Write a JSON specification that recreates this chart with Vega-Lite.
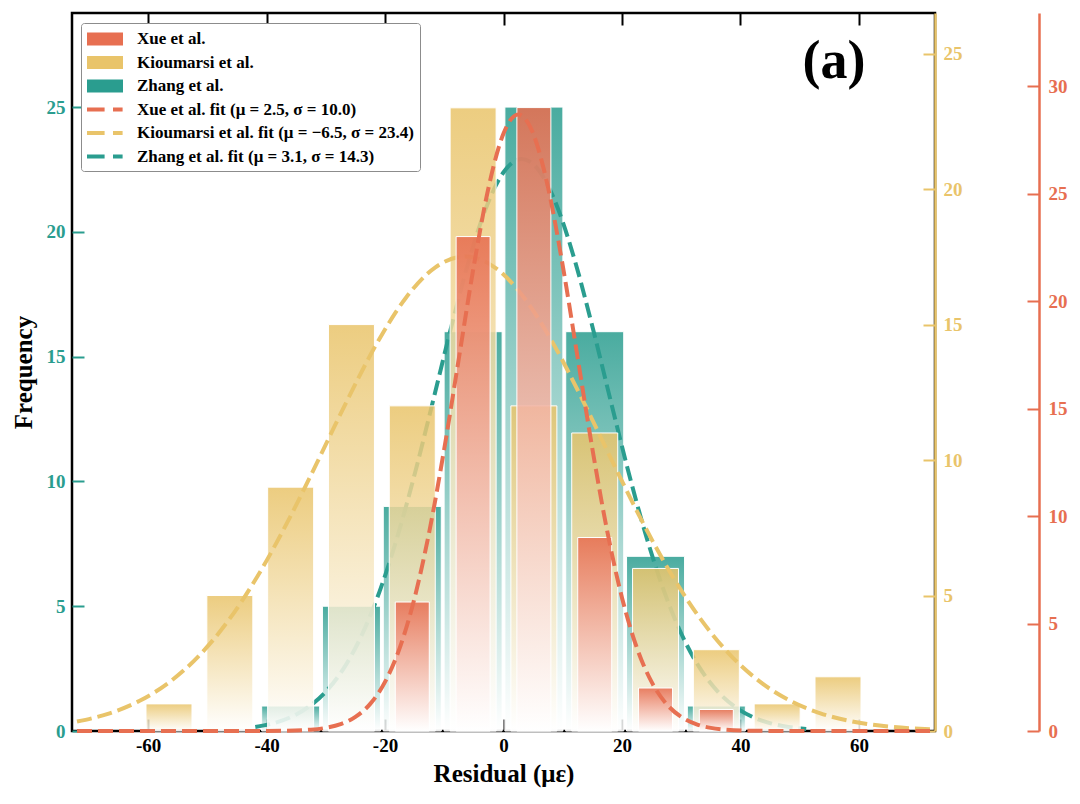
{
  "$schema": "https://vega.github.io/schema/vega-lite/v6.json",
  "width": 863,
  "height": 718,
  "autosize": "none",
  "padding": {"left": 72, "top": 13, "right": 145, "bottom": 73},
  "background": "white",
  "config": {
    "locale": {"number": {"decimal": ".", "thousands": ",", "grouping": [3], "currency": ["$", ""], "minus": "-"}},
    "view": {"stroke": "black", "strokeWidth": 2.5},
    "axis": {
      "grid": false,
      "labelFont": "Liberation Serif",
      "labelFontWeight": "bold",
      "labelFontSize": 19,
      "titleFont": "Liberation Serif",
      "titleFontWeight": "bold",
      "titleFontSize": 25,
      "titleColor": "black"
    }
  },
  "datasets": {
    "zhang": [
      {"center": -35.93, "count": 1}, {"center": -25.67, "count": 5}, {"center": -15.4, "count": 9},
      {"center": -5.13, "count": 16}, {"center": 5.13, "count": 25}, {"center": 15.4, "count": 16},
      {"center": 25.67, "count": 7}, {"center": 35.93, "count": 1}
    ],
    "kioumarsi": [
      {"center": -56.47, "count": 1}, {"center": -46.2, "count": 5}, {"center": -35.93, "count": 9},
      {"center": -25.67, "count": 15}, {"center": -15.4, "count": 12}, {"center": -5.13, "count": 23},
      {"center": 5.13, "count": 12}, {"center": 15.4, "count": 11}, {"center": 25.67, "count": 6},
      {"center": 35.93, "count": 3}, {"center": 46.2, "count": 1}, {"center": 56.47, "count": 2}
    ],
    "xue": [
      {"center": -15.4, "count": 6}, {"center": -5.13, "count": 23}, {"center": 5.13, "count": 29},
      {"center": 15.4, "count": 9}, {"center": 25.67, "count": 2}, {"center": 35.93, "count": 1}
    ],
    "zhang_fit": [
      {"s": "Zhang et al. fit (μ = 3.1, σ = 14.3)", "x": -41.9, "y": 0.162}, {"s": "Zhang et al. fit (μ = 3.1, σ = 14.3)", "x": -38.9, "y": 0.307},
      {"s": "Zhang et al. fit (μ = 3.1, σ = 14.3)", "x": -35.9, "y": 0.556}, {"s": "Zhang et al. fit (μ = 3.1, σ = 14.3)", "x": -32.9, "y": 0.964},
      {"s": "Zhang et al. fit (μ = 3.1, σ = 14.3)", "x": -29.9, "y": 1.599}, {"s": "Zhang et al. fit (μ = 3.1, σ = 14.3)", "x": -26.9, "y": 2.538},
      {"s": "Zhang et al. fit (μ = 3.1, σ = 14.3)", "x": -23.9, "y": 3.856}, {"s": "Zhang et al. fit (μ = 3.1, σ = 14.3)", "x": -20.9, "y": 5.605},
      {"s": "Zhang et al. fit (μ = 3.1, σ = 14.3)", "x": -17.9, "y": 7.797}, {"s": "Zhang et al. fit (μ = 3.1, σ = 14.3)", "x": -14.9, "y": 10.38},
      {"s": "Zhang et al. fit (μ = 3.1, σ = 14.3)", "x": -11.9, "y": 13.222}, {"s": "Zhang et al. fit (μ = 3.1, σ = 14.3)", "x": -8.9, "y": 16.117},
      {"s": "Zhang et al. fit (μ = 3.1, σ = 14.3)", "x": -5.9, "y": 18.802}, {"s": "Zhang et al. fit (μ = 3.1, σ = 14.3)", "x": -2.9, "y": 20.989},
      {"s": "Zhang et al. fit (μ = 3.1, σ = 14.3)", "x": 0.1, "y": 22.421}, {"s": "Zhang et al. fit (μ = 3.1, σ = 14.3)", "x": 3.1, "y": 22.92},
      {"s": "Zhang et al. fit (μ = 3.1, σ = 14.3)", "x": 6.1, "y": 22.421}, {"s": "Zhang et al. fit (μ = 3.1, σ = 14.3)", "x": 9.1, "y": 20.989},
      {"s": "Zhang et al. fit (μ = 3.1, σ = 14.3)", "x": 12.1, "y": 18.802}, {"s": "Zhang et al. fit (μ = 3.1, σ = 14.3)", "x": 15.1, "y": 16.117},
      {"s": "Zhang et al. fit (μ = 3.1, σ = 14.3)", "x": 18.1, "y": 13.222}, {"s": "Zhang et al. fit (μ = 3.1, σ = 14.3)", "x": 21.1, "y": 10.38},
      {"s": "Zhang et al. fit (μ = 3.1, σ = 14.3)", "x": 24.1, "y": 7.797}, {"s": "Zhang et al. fit (μ = 3.1, σ = 14.3)", "x": 27.1, "y": 5.605},
      {"s": "Zhang et al. fit (μ = 3.1, σ = 14.3)", "x": 30.1, "y": 3.856}, {"s": "Zhang et al. fit (μ = 3.1, σ = 14.3)", "x": 33.1, "y": 2.538},
      {"s": "Zhang et al. fit (μ = 3.1, σ = 14.3)", "x": 36.1, "y": 1.599}, {"s": "Zhang et al. fit (μ = 3.1, σ = 14.3)", "x": 39.1, "y": 0.964},
      {"s": "Zhang et al. fit (μ = 3.1, σ = 14.3)", "x": 42.1, "y": 0.556}, {"s": "Zhang et al. fit (μ = 3.1, σ = 14.3)", "x": 45.1, "y": 0.307},
      {"s": "Zhang et al. fit (μ = 3.1, σ = 14.3)", "x": 48.1, "y": 0.162}, {"s": "Zhang et al. fit (μ = 3.1, σ = 14.3)", "x": 51.1, "y": 0.082}
    ],
    "kioumarsi_fit": [
      {"s": "Kioumarsi et al. fit (μ = −6.5, σ = 23.4)", "x": -72, "y": 0.348}, {"s": "Kioumarsi et al. fit (μ = −6.5, σ = 23.4)", "x": -66.5, "y": 0.654},
      {"s": "Kioumarsi et al. fit (μ = −6.5, σ = 23.4)", "x": -61.5, "y": 1.106}, {"s": "Kioumarsi et al. fit (μ = −6.5, σ = 23.4)", "x": -56.5, "y": 1.786},
      {"s": "Kioumarsi et al. fit (μ = −6.5, σ = 23.4)", "x": -51.5, "y": 2.756}, {"s": "Kioumarsi et al. fit (μ = −6.5, σ = 23.4)", "x": -46.5, "y": 4.062},
      {"s": "Kioumarsi et al. fit (μ = −6.5, σ = 23.4)", "x": -41.5, "y": 5.721}, {"s": "Kioumarsi et al. fit (μ = −6.5, σ = 23.4)", "x": -36.5, "y": 7.698},
      {"s": "Kioumarsi et al. fit (μ = −6.5, σ = 23.4)", "x": -31.5, "y": 9.895}, {"s": "Kioumarsi et al. fit (μ = −6.5, σ = 23.4)", "x": -26.5, "y": 12.152},
      {"s": "Kioumarsi et al. fit (μ = −6.5, σ = 23.4)", "x": -21.5, "y": 14.258}, {"s": "Kioumarsi et al. fit (μ = −6.5, σ = 23.4)", "x": -16.5, "y": 15.982},
      {"s": "Kioumarsi et al. fit (μ = −6.5, σ = 23.4)", "x": -11.5, "y": 17.115}, {"s": "Kioumarsi et al. fit (μ = −6.5, σ = 23.4)", "x": -6.5, "y": 17.51},
      {"s": "Kioumarsi et al. fit (μ = −6.5, σ = 23.4)", "x": -1.5, "y": 17.115}, {"s": "Kioumarsi et al. fit (μ = −6.5, σ = 23.4)", "x": 3.5, "y": 15.982},
      {"s": "Kioumarsi et al. fit (μ = −6.5, σ = 23.4)", "x": 8.5, "y": 14.258}, {"s": "Kioumarsi et al. fit (μ = −6.5, σ = 23.4)", "x": 13.5, "y": 12.152},
      {"s": "Kioumarsi et al. fit (μ = −6.5, σ = 23.4)", "x": 18.5, "y": 9.895}, {"s": "Kioumarsi et al. fit (μ = −6.5, σ = 23.4)", "x": 23.5, "y": 7.698},
      {"s": "Kioumarsi et al. fit (μ = −6.5, σ = 23.4)", "x": 28.5, "y": 5.721}, {"s": "Kioumarsi et al. fit (μ = −6.5, σ = 23.4)", "x": 33.5, "y": 4.062},
      {"s": "Kioumarsi et al. fit (μ = −6.5, σ = 23.4)", "x": 38.5, "y": 2.756}, {"s": "Kioumarsi et al. fit (μ = −6.5, σ = 23.4)", "x": 43.5, "y": 1.786},
      {"s": "Kioumarsi et al. fit (μ = −6.5, σ = 23.4)", "x": 48.5, "y": 1.106}, {"s": "Kioumarsi et al. fit (μ = −6.5, σ = 23.4)", "x": 53.5, "y": 0.654},
      {"s": "Kioumarsi et al. fit (μ = −6.5, σ = 23.4)", "x": 58.5, "y": 0.37}, {"s": "Kioumarsi et al. fit (μ = −6.5, σ = 23.4)", "x": 63.5, "y": 0.2},
      {"s": "Kioumarsi et al. fit (μ = −6.5, σ = 23.4)", "x": 68.5, "y": 0.103}, {"s": "Kioumarsi et al. fit (μ = −6.5, σ = 23.4)", "x": 72, "y": 0.063}
    ],
    "xue_fit": [
      {"s": "Xue et al. fit (μ = 2.5, σ = 10.0)", "x": -72, "y": 0}, {"s": "Xue et al. fit (μ = 2.5, σ = 10.0)", "x": -42.5, "y": 0.001},
      {"s": "Xue et al. fit (μ = 2.5, σ = 10.0)", "x": -37.5, "y": 0.0096}, {"s": "Xue et al. fit (μ = 2.5, σ = 10.0)", "x": -32.5, "y": 0.0627},
      {"s": "Xue et al. fit (μ = 2.5, σ = 10.0)", "x": -30, "y": 0.146}, {"s": "Xue et al. fit (μ = 2.5, σ = 10.0)", "x": -27.5, "y": 0.319},
      {"s": "Xue et al. fit (μ = 2.5, σ = 10.0)", "x": -25, "y": 0.654}, {"s": "Xue et al. fit (μ = 2.5, σ = 10.0)", "x": -22.5, "y": 1.26},
      {"s": "Xue et al. fit (μ = 2.5, σ = 10.0)", "x": -20, "y": 2.282}, {"s": "Xue et al. fit (μ = 2.5, σ = 10.0)", "x": -17.5, "y": 3.881},
      {"s": "Xue et al. fit (μ = 2.5, σ = 10.0)", "x": -15, "y": 6.203}, {"s": "Xue et al. fit (μ = 2.5, σ = 10.0)", "x": -12.5, "y": 9.311},
      {"s": "Xue et al. fit (μ = 2.5, σ = 10.0)", "x": -10, "y": 13.131}, {"s": "Xue et al. fit (μ = 2.5, σ = 10.0)", "x": -7.5, "y": 17.396},
      {"s": "Xue et al. fit (μ = 2.5, σ = 10.0)", "x": -5, "y": 21.649}, {"s": "Xue et al. fit (μ = 2.5, σ = 10.0)", "x": -2.5, "y": 25.31},
      {"s": "Xue et al. fit (μ = 2.5, σ = 10.0)", "x": 0, "y": 27.797}, {"s": "Xue et al. fit (μ = 2.5, σ = 10.0)", "x": 2.5, "y": 28.68},
      {"s": "Xue et al. fit (μ = 2.5, σ = 10.0)", "x": 5, "y": 27.797}, {"s": "Xue et al. fit (μ = 2.5, σ = 10.0)", "x": 7.5, "y": 25.31},
      {"s": "Xue et al. fit (μ = 2.5, σ = 10.0)", "x": 10, "y": 21.649}, {"s": "Xue et al. fit (μ = 2.5, σ = 10.0)", "x": 12.5, "y": 17.396},
      {"s": "Xue et al. fit (μ = 2.5, σ = 10.0)", "x": 15, "y": 13.131}, {"s": "Xue et al. fit (μ = 2.5, σ = 10.0)", "x": 17.5, "y": 9.311},
      {"s": "Xue et al. fit (μ = 2.5, σ = 10.0)", "x": 20, "y": 6.203}, {"s": "Xue et al. fit (μ = 2.5, σ = 10.0)", "x": 22.5, "y": 3.881},
      {"s": "Xue et al. fit (μ = 2.5, σ = 10.0)", "x": 25, "y": 2.282}, {"s": "Xue et al. fit (μ = 2.5, σ = 10.0)", "x": 27.5, "y": 1.26},
      {"s": "Xue et al. fit (μ = 2.5, σ = 10.0)", "x": 30, "y": 0.654}, {"s": "Xue et al. fit (μ = 2.5, σ = 10.0)", "x": 32.5, "y": 0.319},
      {"s": "Xue et al. fit (μ = 2.5, σ = 10.0)", "x": 35, "y": 0.146}, {"s": "Xue et al. fit (μ = 2.5, σ = 10.0)", "x": 37.5, "y": 0.0627},
      {"s": "Xue et al. fit (μ = 2.5, σ = 10.0)", "x": 42.5, "y": 0.0096}, {"s": "Xue et al. fit (μ = 2.5, σ = 10.0)", "x": 47.5, "y": 0.001},
      {"s": "Xue et al. fit (μ = 2.5, σ = 10.0)", "x": 72, "y": 0}
    ]
  },
  "layer": [
    {
      "data": {"name": "zhang"},
      "mark": {
        "type": "bar", "width": 58, "fillOpacity": 0.85, "stroke": "white", "strokeWidth": 1,
        "fill": {"gradient": "linear", "x1": 0, "y1": 0, "x2": 0, "y2": 1,
          "stops": [{"offset": 0, "color": "#2a9d8f"}, {"offset": 1, "color": "#ffffff"}]}
      },
      "encoding": {
        "x": {"field": "center", "type": "quantitative",
          "scale": {"domain": [-72, 72], "nice": false, "zero": false},
          "axis": {"orient": "bottom", "values": [-60, -40, -20, 0, 20, 40, 60], "title": "Residual (με)",
            "domain": false, "tickColor": "black", "tickSize": -12, "tickWidth": 2, "labelColor": "black",
            "labelPadding": 17, "titlePadding": 6}},
        "y": {"field": "count", "type": "quantitative",
          "scale": {"domain": [0, 28.77], "nice": false, "zero": true},
          "axis": {"orient": "left", "values": [0, 5, 10, 15, 20, 25], "title": "Frequency",
            "domain": false, "tickColor": "#2a9d8f", "tickSize": -12, "tickWidth": 2,
            "labelColor": "#2a9d8f", "labelPadding": 19, "titlePadding": 10}}
      }
    },
    {
      "data": {"name": "zhang_fit"},
      "mark": {"type": "line", "interpolate": "monotone", "strokeWidth": 4, "strokeDash": [15, 6], "strokeCap": "butt"},
      "encoding": {
        "x": {"field": "x", "type": "quantitative", "scale": {"domain": [-72, 72], "nice": false, "zero": false}, "axis": null},
        "y": {"field": "y", "type": "quantitative", "scale": {"domain": [0, 28.77], "nice": false, "zero": true}, "axis": null},
        "color": {"field": "s", "type": "nominal",
          "scale": {
            "domain": ["Xue et al.", "Kioumarsi et al.", "Zhang et al.", "Xue et al. fit (μ = 2.5, σ = 10.0)", "Kioumarsi et al. fit (μ = −6.5, σ = 23.4)", "Zhang et al. fit (μ = 3.1, σ = 14.3)"],
            "range": ["#e76f51", "#e9c46a", "#2a9d8f", "#e76f51", "#e9c46a", "#2a9d8f"]
          },
          "legend": {
            "title": null, "orient": "none", "legendX": 9, "legendY": 10,
            "padding": 6, "rowPadding": 5.5, "symbolSize": 400, "labelOffset": 30,
            "labelFont": "Liberation Serif", "labelFontWeight": "bold", "labelFontSize": 17,
            "labelColor": "black", "labelLimit": 500,
            "fillColor": "white", "strokeColor": "#8c8c8c", "cornerRadius": 3,
            "encode": {
              "symbols": {"update": {
                "shape": {"signal": "indexof(datum.value, 'fit') >= 0 ? 'M-1,-0.2H0.76V0.2H-1Z M1.6,-0.2H2.56V0.2H1.6Z' : 'M-1,-0.65H2.6V0.65H-1Z'"},
                "fill": {"signal": "scale('color', datum.value)"},
                "stroke": {"value": "transparent"},
                "strokeWidth": {"value": 0},
                "opacity": {"value": 1},
                "fillOpacity": {"value": 1}
              }}
            }
          }
        }
      }
    },
    {
      "data": {"values": [{"label": "(a)", "px": 55.8, "py": 26.18}]},
      "mark": {"type": "text", "font": "Liberation Serif", "fontWeight": "bold", "fontSize": 54, "align": "center", "baseline": "alphabetic", "color": "black"},
      "encoding": {
        "text": {"field": "label"},
        "x": {"field": "px", "type": "quantitative", "scale": {"domain": [-72, 72], "nice": false, "zero": false}, "axis": null},
        "y": {"field": "py", "type": "quantitative", "scale": {"domain": [0, 28.77], "nice": false, "zero": true}, "axis": null}
      }
    },
    {
      "data": {"name": "kioumarsi"},
      "mark": {
        "type": "bar", "width": 46, "fillOpacity": 0.85, "stroke": "white", "strokeWidth": 1,
        "fill": {"gradient": "linear", "x1": 0, "y1": 0, "x2": 0, "y2": 1,
          "stops": [{"offset": 0, "color": "#e9c46a"}, {"offset": 1, "color": "#ffffff"}]}
      },
      "encoding": {
        "x": {"field": "center", "type": "quantitative",
          "scale": {"domain": [-72, 72], "nice": false, "zero": false},
          "axis": {"orient": "top", "values": [-60, -40, -20, 0, 20, 40, 60], "title": null, "labels": false,
            "domain": false, "tickColor": "black", "tickSize": -12, "tickWidth": 2}},
        "y": {"field": "count", "type": "quantitative",
          "scale": {"domain": [0, 26.5], "nice": false, "zero": true},
          "axis": {"orient": "right", "values": [0, 5, 10, 15, 20, 25], "title": null,
            "domain": true, "domainColor": "#e9c46a", "domainWidth": 2.5,
            "tickColor": "#e9c46a", "tickSize": -12, "tickWidth": 2,
            "labelColor": "#e9c46a", "labelPadding": 20}}
      }
    },
    {
      "data": {"name": "kioumarsi_fit"},
      "mark": {"type": "line", "interpolate": "monotone", "strokeWidth": 4, "strokeDash": [15, 6], "strokeCap": "butt"},
      "encoding": {
        "x": {"field": "x", "type": "quantitative", "scale": {"domain": [-72, 72], "nice": false, "zero": false}, "axis": null},
        "y": {"field": "y", "type": "quantitative", "scale": {"domain": [0, 26.5], "nice": false, "zero": true}, "axis": null},
        "color": {"field": "s", "type": "nominal", "legend": null}
      }
    },
    {
      "data": {"name": "xue"},
      "mark": {
        "type": "bar", "width": 34, "fillOpacity": 0.88, "stroke": "white", "strokeWidth": 1,
        "fill": {"gradient": "linear", "x1": 0, "y1": 0, "x2": 0, "y2": 1,
          "stops": [{"offset": 0, "color": "#e76f51"}, {"offset": 1, "color": "#ffffff"}]}
      },
      "encoding": {
        "x": {"field": "center", "type": "quantitative",
          "scale": {"domain": [-72, 72], "nice": false, "zero": false}, "axis": null},
        "y": {"field": "count", "type": "quantitative",
          "scale": {"domain": [0, 33.4], "nice": false, "zero": true},
          "axis": {"orient": "right", "offset": 104, "values": [0, 5, 10, 15, 20, 25, 30], "title": null,
            "domain": true, "domainColor": "#e76f51", "domainWidth": 2.5,
            "tickColor": "#e76f51", "tickSize": -12, "tickWidth": 2,
            "labelColor": "#e76f51", "labelPadding": 21}}
      }
    },
    {
      "data": {"name": "xue_fit"},
      "mark": {"type": "line", "interpolate": "monotone", "strokeWidth": 4, "strokeDash": [15, 6], "strokeCap": "butt"},
      "encoding": {
        "x": {"field": "x", "type": "quantitative", "scale": {"domain": [-72, 72], "nice": false, "zero": false}, "axis": null},
        "y": {"field": "y", "type": "quantitative", "scale": {"domain": [0, 33.4], "nice": false, "zero": true}, "axis": null},
        "color": {"field": "s", "type": "nominal", "legend": null}
      }
    }
  ],
  "resolve": {"scale": {"y": "independent"}, "axis": {"y": "independent", "x": "independent"}}
}
